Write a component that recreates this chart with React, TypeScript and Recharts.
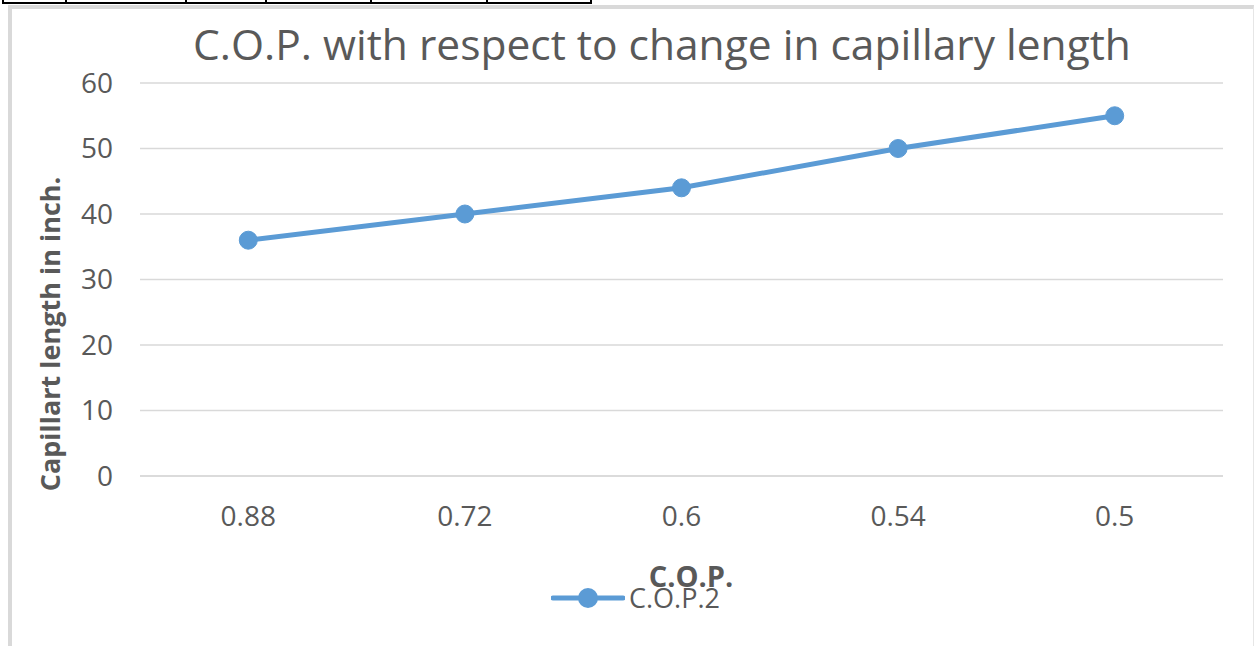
import React from 'react';
import { LineChart, Line, XAxis, YAxis, CartesianGrid, Legend } from 'recharts';

const categories = ['0.88', '0.72', '0.6', '0.54', '0.5'];
const cop2Values = [36, 40, 44, 50, 55];
const yTicks = [0, 10, 20, 30, 40, 50, 60];
const tableColumnEdges = [2, 65, 185, 265, 370, 486, 590];

const data = categories.map((c, i) => ({ cop: c, 'C.O.P.2': cop2Values[i] }));

const FONT = '"Open Sans", "Segoe UI", sans-serif';
const GRAY = '#595959';
const BLUE = '#5B9BD5';

const LegendContent = () => (
  <div style={{ display: 'flex', alignItems: 'center', height: 37, fontFamily: FONT, fontSize: 27, color: GRAY }}>
    <svg width={74} height={22}>
      <line x1={2} y1={11} x2={72} y2={11} stroke={BLUE} strokeWidth={5} strokeLinecap="round" />
      <circle cx={37} cy={11} r={10} fill={BLUE} />
    </svg>
    <span style={{ marginLeft: 4 }}>C.O.P.2</span>
  </div>
);

export default function App() {
  return (
    <div style={{ position: 'absolute', left: 0, top: 0, width: 1254, height: 646, background: '#fff', overflow: 'hidden' }}>
      {/* table fragment above the chart */}
      <div style={{ position: 'absolute', left: 2, top: 2, width: 590, height: 2, background: '#000' }} />
      {tableColumnEdges.map((x) => (
        <div key={x} style={{ position: 'absolute', left: x, top: 0, width: 2, height: 4, background: '#000' }} />
      ))}
      {/* chart frame */}
      <div style={{ position: 'absolute', left: 8, top: 5, width: 1246, height: 700, boxSizing: 'border-box', borderLeft: '4px solid #d9d9d9', borderTop: '4px solid #d9d9d9', borderRight: '1px solid #e6e6e6' }} />
      <div style={{ position: 'absolute', left: 0, top: 0 }}>
        <LineChart width={1254} height={646} data={data} margin={{ top: 83, right: 31, bottom: 103, left: 80 }}>
          <CartesianGrid vertical={false} stroke="#d9d9d9" strokeWidth={1.5} />
          <XAxis
            dataKey="cop"
            scale="band"
            height={30}
            axisLine={{ stroke: '#d9d9d9', strokeWidth: 1.5 }}
            tickLine={false}
            tickSize={0}
            tickMargin={30}
            tick={{ fill: GRAY, fontSize: 28, fontFamily: FONT }}
          />
          <YAxis
            width={60}
            domain={[0, 60]}
            ticks={yTicks}
            axisLine={false}
            tickLine={false}
            tickSize={0}
            tickMargin={27}
            tick={{ fill: GRAY, fontSize: 28, fontFamily: FONT }}
          />
          <Legend
            content={<LegendContent />}
            wrapperStyle={{ position: 'absolute', left: 551, top: 579, width: 220, height: 37 }}
          />
          <Line
            type="linear"
            dataKey="C.O.P.2"
            stroke={BLUE}
            strokeWidth={5}
            dot={{ r: 9, fill: BLUE, stroke: BLUE, strokeWidth: 1 }}
            activeDot={false}
            isAnimationActive={false}
          />
        </LineChart>
      </div>
      {/* title */}
      <div style={{ position: 'absolute', left: 0, top: 15, width: 1324, textAlign: 'center', fontFamily: FONT, fontSize: 42.5, color: GRAY, whiteSpace: 'nowrap' }}>
        C.O.P. with respect to change in capillary length
      </div>
      {/* y axis label */}
      <div style={{ position: 'absolute', left: 49, top: 334, transform: 'translate(-50%, -50%) rotate(-90deg)', fontFamily: FONT, fontSize: 27, fontWeight: 700, color: GRAY, whiteSpace: 'nowrap' }}>
        Capillart length in inch.
      </div>
      {/* x axis label */}
      <div style={{ position: 'absolute', left: 691, top: 575, transform: 'translate(-50%, -50%)', fontFamily: FONT, fontSize: 29, fontWeight: 700, color: GRAY, whiteSpace: 'nowrap' }}>
        C.O.P.
      </div>
    </div>
  );
}
